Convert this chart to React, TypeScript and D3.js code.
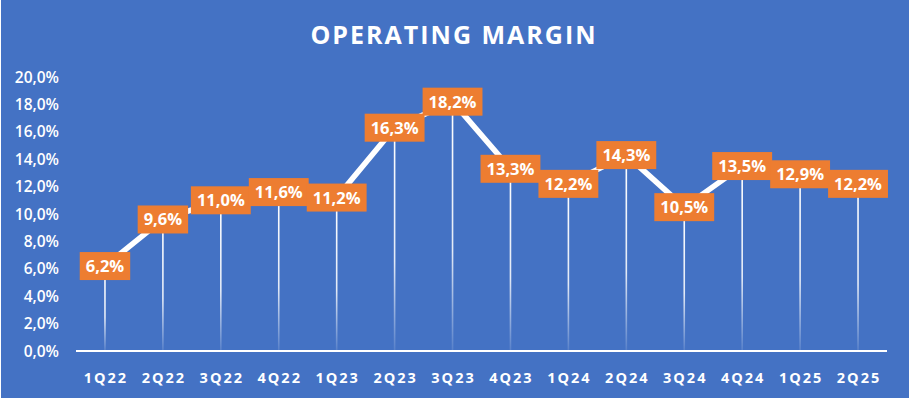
import { useEffect, useRef } from "react"
import * as d3 from "d3"

const quarters = ["1Q22", "2Q22", "3Q22", "4Q22", "1Q23", "2Q23", "3Q23", "4Q23", "1Q24", "2Q24", "3Q24", "4Q24", "1Q25", "2Q25"]
const margins = [6.2, 9.6, 11.0, 11.6, 11.2, 16.3, 18.2, 13.3, 12.2, 14.3, 10.5, 13.5, 12.9, 12.2]
const yTicks = [0, 2, 4, 6, 8, 10, 12, 14, 16, 18, 20]

const fmt = (v: number) => v.toFixed(1).replace(".", ",") + "%"

export default function App() {
  const svgRef = useRef<SVGSVGElement>(null)

  useEffect(() => {
    document.body.style.margin = "0"
    if (!svgRef.current) return

    const W = 910
    const H = 400
    const margin = { top: 77, right: 23, bottom: 49, left: 76 }
    const font = "'Open Sans', sans-serif"

    const root = d3.select(svgRef.current)
    root.selectAll("*").remove()
    root.attr("width", W).attr("height", H)

    // background
    root.append("rect").attr("width", W).attr("height", H).attr("fill", "#ffffff")
    root.append("rect").attr("x", 1).attr("y", 0).attr("width", W - 2).attr("height", H - 2).attr("fill", "#4472C4")

    const defs = root.append("defs")
    const grad = defs.append("linearGradient").attr("id", "drop").attr("x1", 0).attr("y1", 0).attr("x2", 0).attr("y2", 1)
    grad.append("stop").attr("offset", "0%").attr("stop-color", "#fff").attr("stop-opacity", 1)
    grad.append("stop").attr("offset", "60%").attr("stop-color", "#fff").attr("stop-opacity", 0.85)
    grad.append("stop").attr("offset", "100%").attr("stop-color", "#fff").attr("stop-opacity", 0.1)

    // title
    root
      .append("text")
      .attr("x", 454)
      .attr("y", 44)
      .attr("text-anchor", "middle")
      .attr("fill", "#fff")
      .style("font-family", font)
      .style("font-weight", "700")
      .style("font-size", "25px")
      .style("letter-spacing", "2px")
      .text("OPERATING MARGIN")

    const width = W - margin.left - margin.right
    const height = H - margin.top - margin.bottom
    const g = root.append("g").attr("transform", `translate(${margin.left},${margin.top})`)

    const x = d3.scaleBand().domain(quarters).range([0, width])
    const y = d3.scaleLinear().domain([0, 20]).range([height, 0])
    const cx = (q: string) => (x(q) as number) + x.bandwidth() / 2

    // y tick labels
    g.selectAll(".ytick")
      .data(yTicks)
      .enter()
      .append("text")
      .attr("x", -17)
      .attr("y", (d) => y(d))
      .attr("dy", "0.36em")
      .attr("text-anchor", "end")
      .attr("fill", "#fff")
      .style("font-family", font)
      .style("font-size", "15.5px")
      .style("font-weight", "600")
      .text((d) => fmt(d))

    // x tick labels
    g.selectAll(".xtick")
      .data(quarters)
      .enter()
      .append("text")
      .attr("x", (d) => cx(d) + 1)
      .attr("y", height + 32)
      .attr("text-anchor", "middle")
      .attr("fill", "#fff")
      .style("font-family", font)
      .style("font-size", "14.5px")
      .style("font-weight", "700")
      .style("letter-spacing", "2px")
      .text((d) => d)

    const data = quarters.map((q, i) => ({ q, v: margins[i] }))

    // drop lines
    g.selectAll(".drop")
      .data(data)
      .enter()
      .append("rect")
      .attr("x", (d) => cx(d.q) - 0.8)
      .attr("y", (d) => y(d.v))
      .attr("width", 1.6)
      .attr("height", (d) => height - y(d.v))
      .attr("fill", "url(#drop)")

    // axis line
    g.append("line")
      .attr("x1", 0)
      .attr("x2", width)
      .attr("y1", height)
      .attr("y2", height)
      .attr("stroke", "#fff")
      .attr("stroke-width", 2)

    // line
    const line = d3
      .line<{ q: string; v: number }>()
      .x((d) => cx(d.q))
      .y((d) => y(d.v))
    g.append("path")
      .datum(data)
      .attr("d", line)
      .attr("fill", "none")
      .attr("stroke", "#fff")
      .attr("stroke-width", 5.5)
      .attr("stroke-linejoin", "miter")

    // labels
    const labels = g.selectAll(".lbl").data(data).enter().append("g").attr("transform", (d) => `translate(${cx(d.q)},${y(d.v)})`)
    const texts = labels
      .append("text")
      .attr("text-anchor", "middle")
      .attr("dy", "0.36em")
      .attr("fill", "#fff")
      .style("font-family", font)
      .style("font-size", "16.5px")
      .style("font-weight", "700")
      .text((d) => fmt(d.v))
    texts.each(function () {
      const t = this as SVGTextElement
      const w = t.getComputedTextLength()
      d3.select(t.parentNode as SVGGElement)
        .insert("rect", "text")
        .attr("x", -w / 2 - 6)
        .attr("y", -14)
        .attr("width", w + 12)
        .attr("height", 28)
        .attr("fill", "#ED7D31")
    })
  }, [])

  return <svg ref={svgRef} style={{ display: "block" }}></svg>
}
